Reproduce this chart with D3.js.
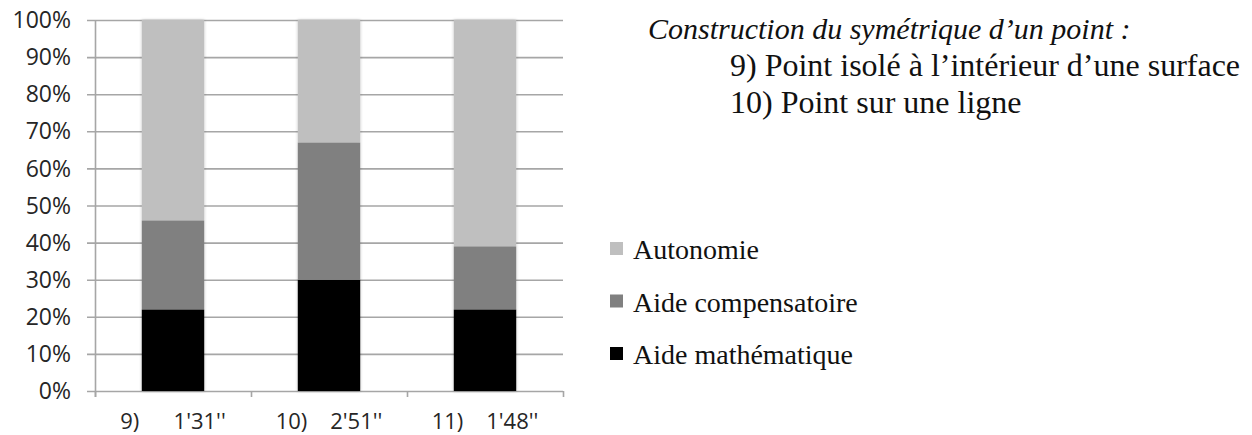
<!DOCTYPE html>
<html><head><meta charset="utf-8">
<script src="https://cdn.jsdelivr.net/npm/d3@7"></script>
<style>
html,body{margin:0;padding:0;background:#fff;}
svg{display:block;}
text{white-space:pre;}
</style></head>
<body>
<svg id="chart" width="1252" height="435"></svg>
<script>
const categories = ["9)      1'31''", "10)    2'51''", "11)    1'48''"];
const seriesNames = ["Aide mathématique", "Aide compensatoire", "Autonomie"];
const aideMath = [22, 30, 22];
const aideComp = [24, 37, 17];
const autonomie = [54, 33, 61];
const yTicks = [0, 10, 20, 30, 40, 50, 60, 70, 80, 90, 100];
const colors = ["#000000", "#808080", "#bfbfbf"];
const titleLines = ["Construction du symétrique d\u2019un point :", "9) Point isolé à l\u2019intérieur d\u2019une surface", "10) Point sur une ligne"];
const legendOrder = ["Autonomie", "Aide compensatoire", "Aide mathématique"];

const rows = categories.map((c, i) => ({cat: c, "Aide mathématique": aideMath[i], "Aide compensatoire": aideComp[i], "Autonomie": autonomie[i]}));
const stacked = d3.stack().keys(seriesNames)(rows);

const svg = d3.select("#chart");
const L = 95, R = 563, T = 20, B = 391;
const x = d3.scaleBand().domain(categories).range([L, R]).paddingInner(0.6).paddingOuter(0.3);
const y = d3.scaleLinear().domain([0, 100]).range([B, T]);
const color = d3.scaleOrdinal().domain(seriesNames).range(colors);

const defs = svg.append("defs");
const f = defs.append("filter").attr("id", "sh").attr("x", "-10%").attr("y", "-5%").attr("width", "120%").attr("height", "110%");
f.append("feGaussianBlur").attr("in", "SourceAlpha").attr("stdDeviation", 1.5).attr("result", "b");
f.append("feFlood").attr("flood-color", "#000").attr("flood-opacity", 0.25).attr("result", "c");
f.append("feComposite").attr("in", "c").attr("in2", "b").attr("operator", "in").attr("result", "s");
const m = f.append("feMerge");
m.append("feMergeNode").attr("in", "s");
m.append("feMergeNode").attr("in", "SourceGraphic");

// gridlines
svg.append("g").selectAll("line").data(yTicks).join("line")
  .attr("x1", L - 8).attr("x2", R)
  .attr("y1", d => y(d) + 0.5).attr("y2", d => y(d) + 0.5)
  .attr("stroke", "#a6a6a6").attr("stroke-width", 1.6);

// y axis line
svg.append("line").attr("x1", L + 0.5).attr("x2", L + 0.5).attr("y1", y(100)).attr("y2", B + 6)
  .attr("stroke", "#a6a6a6").attr("stroke-width", 1.6);

// x ticks at band boundaries
const bounds = [L].concat(categories.map(c => x(c) + x.bandwidth() + x.step() * 0.3));
svg.append("g").selectAll("line").data(bounds).join("line")
  .attr("x1", d => d + 0.5).attr("x2", d => d + 0.5)
  .attr("y1", B).attr("y2", B + 6)
  .attr("stroke", "#a6a6a6").attr("stroke-width", 1.6);

// y labels
svg.append("g").selectAll("text").data(yTicks).join("text")
  .attr("x", 71).attr("y", d => y(d) + 2)
  .attr("text-anchor", "end").attr("dominant-baseline", "middle")
  .attr("font-family", "Open Sans").attr("font-size", 23).attr("fill", "#262626")
  .text(d => d + "%");

// bars
const barG = svg.append("g").attr("filter", "url(#sh)");
barG.selectAll("g").data(stacked).join("g")
  .attr("fill", d => color(d.key))
  .selectAll("rect").data(d => d).join("rect")
  .attr("x", d => x(d.data.cat))
  .attr("width", x.bandwidth())
  .attr("y", d => y(d[1]))
  .attr("height", d => y(d[0]) - y(d[1]));

// x labels
svg.append("g").selectAll("text").data(categories).join("text")
  .attr("x", d => x(d) + x.bandwidth() / 2)
  .attr("y", 429)
  .attr("text-anchor", "middle")
  .attr("font-family", "Open Sans").attr("font-size", 22).attr("fill", "#262626")
  .text(d => d);

// title
const tg = svg.append("g").attr("font-family", "Liberation Serif").attr("fill", "#111");
tg.append("text").attr("x", 648).attr("y", 39).attr("font-style", "italic").attr("font-size", 30).text(titleLines[0]);
tg.append("text").attr("x", 730).attr("y", 76).attr("font-size", 32).text(titleLines[1]);
tg.append("text").attr("x", 730).attr("y", 113).attr("font-size", 32).text(titleLines[2]);

// legend
const lg = svg.append("g").selectAll("g").data(legendOrder).join("g")
  .attr("transform", (d, i) => `translate(610, ${259 + i * 52.5})`);
lg.append("rect").attr("x", 0).attr("y", -17).attr("width", 13).attr("height", 13).attr("fill", d => color(d));
lg.append("text").attr("x", 23).attr("y", 0)
  .attr("font-family", "Liberation Serif").attr("font-size", 28).attr("fill", "#111").text(d => d);
</script>
</body></html>
